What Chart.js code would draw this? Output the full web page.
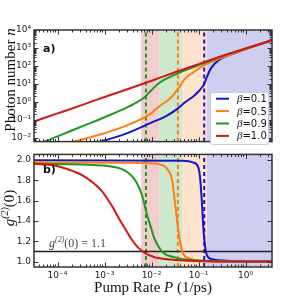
<!DOCTYPE html>
<html>
<head>
<meta charset="utf-8">
<script src="https://cdn.jsdelivr.net/npm/chart.js@4.4.1/dist/chart.umd.min.js"></script>
<style>
  html, body { margin: 0; padding: 0; background: #fff; }
  #wrap { position: relative; width: 299px; height: 297px; overflow: hidden; }
  canvas { position: absolute; left: 0; }
  #graficoTopo { top: 0; }
  #graficoBase { top: 146px; }
</style>
</head>
<body>
<div id="wrap">
  <canvas id="graficoTopo" width="299" height="150"></canvas>
  <canvas id="graficoBase" width="299" height="151"></canvas>
</div>
<script>
// beta values and colours of the four curves (legend order)
const betas = [0.1, 0.5, 0.9, 1.0];
const lineColors = ['#1414c8', '#ff7f0e', '#1e9a1e', '#d41616'];

// axis ranges
const xMin = 3.16e-5, xMax = 3.65;
const yTopMin = 0.0062, yTopMax = 1e4;
const yBotMin = 0.947, yBotMax = 2.053;

// tick labels
const xTickValues = [1e-4, 1e-3, 1e-2, 1e-1, 1];
const xTickLabels = ['10⁻⁴', '10⁻³', '10⁻²', '10⁻¹', '10⁰'];
const yTopTickValues = [1e-2, 1e-1, 1, 10, 100, 1000, 10000];
const yTopTickLabels = ['10⁻²', '10⁻¹', '10⁰', '10¹', '10²', '10³', '10⁴'];
const yBotTickValues = [1.0, 1.2, 1.4, 1.6, 1.8, 2.0];
const yBotTickLabels = ['1.0', '1.2', '1.4', '1.6', '1.8', '2.0'];

// panel a) photon number n vs pump rate P
const pumpBlueA = [7.9e-4, 1e-3, 3.16e-3, 0.01, 0.02, 0.0347, 0.05, 0.079, 0.1, 0.1175, 0.132, 0.151, 0.178, 0.224, 0.316, 0.631, 1.445, 3.65];
const photonsBlue = [0.0059, 0.0071, 0.019, 0.0708, 0.158, 0.398, 0.891, 2.14, 3.8, 6.31, 10, 25.1, 63.1, 141, 269, 550, 1202, 2512];
const pumpOrangeA = [2.04e-4, 3.16e-4, 1e-3, 3.16e-3, 0.01, 0.0145, 0.0251, 0.0347, 0.0407, 0.05, 0.0759, 0.126, 0.288, 0.631, 1, 3.65];
const photonsOrange = [0.0059, 0.0079, 0.0182, 0.0525, 0.24, 0.562, 1.585, 4.47, 7.94, 17.8, 42.7, 104.7, 263, 562, 851, 2630];
const pumpGreenA = [5.1e-5, 1e-4, 3.16e-4, 1e-3, 3.16e-3, 6.9e-3, 0.01, 0.0145, 0.0316, 0.063, 0.1, 0.316, 1, 3.65];
const photonsGreen = [0.0059, 0.012, 0.0417, 0.141, 0.525, 1.7, 4.57, 11.2, 33.1, 69.2, 109.6, 347, 933, 2692];
const pumpRedA = [3.16e-5, 1e-4, 3.16e-4, 1e-3, 3.16e-3, 0.01, 0.0316, 0.1, 0.316, 1, 3.65];
const photonsRed = [0.0813, 0.229, 0.646, 1.86, 5.25, 15.1, 44.7, 125.9, 355, 955, 2692];

// panel b) g2(0) vs pump rate P
const pumpBlueB = [3.16e-5, 0.0468, 0.0759, 0.098, 0.107, 0.1175, 0.126, 0.138, 0.151, 0.195, 0.331, 1, 3.65];
const g2Blue = [1.995, 1.99, 1.975, 1.93, 1.84, 1.59, 1.34, 1.15, 1.06, 1.024, 1.01, 1.002, 1.0];
const pumpOrangeB = [3.16e-5, 3.16e-3, 9.3e-3, 0.0174, 0.0224, 0.0275, 0.0302, 0.0331, 0.0363, 0.0407, 0.0468, 0.066, 0.107, 0.316, 3.65];
const g2Orange = [1.975, 1.972, 1.967, 1.945, 1.90, 1.80, 1.65, 1.50, 1.34, 1.19, 1.08, 1.03, 1.01, 1.0, 1.0];
const pumpGreenB = [3.16e-5, 3.16e-4, 8.5e-4, 1.58e-3, 2.57e-3, 3.63e-3, 4.9e-3, 6.3e-3, 7.9e-3, 9.8e-3, 0.0112, 0.0132, 0.0174, 0.0288, 0.0468, 0.107, 0.316, 3.65];
const g2Green = [1.96, 1.955, 1.945, 1.93, 1.90, 1.85, 1.77, 1.65, 1.47, 1.33, 1.24, 1.17, 1.09, 1.046, 1.024, 1.01, 1.003, 1.0];
const pumpRedB = [3.16e-5, 8.5e-5, 1.58e-4, 3.6e-4, 8.5e-4, 1.38e-3, 2.24e-3, 3.63e-3, 4.9e-3, 6.9e-3, 0.0112, 0.0251, 0.0468, 0.251, 3.65];
const g2Red = [1.96, 1.945, 1.91, 1.84, 1.70, 1.56, 1.39, 1.23, 1.15, 1.09, 1.046, 1.02, 1.01, 1.0, 1.0];

// laser thresholds (dashed lines) for beta = 0.1, 0.5, 0.9
const thresholdPump = [0.132, 0.0363, 0.0076];
// shaded regions
const bandEdges = [0.006, 0.0145, 0.045, 0.151, xMax];
const bandColors = ['#f2cdcd', '#cee8ce', '#fde3ce', '#cecef0'];
const g2Limit = 1.1;

const pts = (xs, ys) => xs.map((x, i) => ({ x: x, y: ys[i] }));

function curve(label, data, color, order) {
  return { label: label, data: data, borderColor: color, borderWidth: 2, pointRadius: 0,
           fill: false, cubicInterpolationMode: 'monotone', order: order };
}
function dashed(p, lo, hi, color) {
  return { data: [{ x: p, y: lo }, { x: p, y: hi }], borderColor: color, borderWidth: 2,
           borderDash: [4, 3], pointRadius: 0, tension: 0, order: 10 };
}

const tickFont = { family: 'DejaVu Sans', size: 9 };
const serif = 'Liberation Serif';

function xAxis(show) {
  return {
    type: 'logarithmic', min: xMin, max: xMax, display: show,
    afterBuildTicks: s => { s.ticks = xTickValues.map(v => ({ value: v })); },
    afterFit: s => { s.height = show ? 30 : 0; },
    ticks: { autoSkip: false, maxRotation: 0, padding: 3, color: '#222', font: tickFont,
             callback: (v, i) => xTickLabels[i] },
    grid: { display: false, drawTicks: false },
    border: { display: false }
  };
}

// bandas coloridas
function drawBands(chart) {
  const { ctx, chartArea: a, scales: { x } } = chart;
  ctx.save();
  for (let i = 0; i < bandColors.length; i++) {
    const x0 = Math.max(a.left, x.getPixelForValue(bandEdges[i]));
    const x1 = Math.min(a.right, x.getPixelForValue(bandEdges[i + 1]));
    ctx.fillStyle = bandColors[i];
    ctx.fillRect(x0, a.top, x1 - x0, a.bottom - a.top);
  }
  ctx.restore();
}

// moldura e marcas para dentro
function drawFrame(chart, logY, yMajors) {
  const { ctx, chartArea: a, scales: { x, y } } = chart;
  ctx.save();
  ctx.strokeStyle = '#333';
  ctx.lineWidth = 1;
  ctx.beginPath();
  for (let d = -5; d <= 1; d++) {
    for (let k = 1; k < 10; k++) {
      const v = k * Math.pow(10, d);
      if (v < xMin || v > xMax) continue;
      const px = Math.round(x.getPixelForValue(v)) + 0.5;
      const len = k === 1 ? 4.5 : 2.5;
      ctx.moveTo(px, a.bottom); ctx.lineTo(px, a.bottom - len);
      ctx.moveTo(px, a.top); ctx.lineTo(px, a.top + len);
    }
  }
  const yTicks = [];
  if (logY) {
    for (let d = -3; d <= 4; d++) {
      for (let k = 1; k < 10; k++) {
        const v = k * Math.pow(10, d);
        if (v < yTopMin || v > yTopMax) continue;
        yTicks.push([v, k === 1 ? 4.5 : 2.5]);
      }
    }
  } else {
    yMajors.forEach(v => yTicks.push([v, 4.5]));
  }
  yTicks.forEach(([v, len]) => {
    const py = Math.round(y.getPixelForValue(v)) + 0.5;
    ctx.moveTo(a.left, py); ctx.lineTo(a.left + len, py);
    ctx.moveTo(a.right, py); ctx.lineTo(a.right - len, py);
  });
  ctx.stroke();
  ctx.lineWidth = 1.5;
  ctx.strokeRect(a.left, a.top, a.right - a.left, a.bottom - a.top);
  ctx.restore();
}

// texto com partes em fontes diferentes
function richText(ctx, parts, x, y, align) {
  let w = 0;
  parts.forEach(p => { ctx.font = p.font; w += ctx.measureText(p.t).width; });
  let cx = align === 'center' ? x - w / 2 : x;
  parts.forEach(p => {
    ctx.font = p.font;
    ctx.fillText(p.t, cx, y + (p.dy || 0));
    cx += ctx.measureText(p.t).width;
  });
}

const pluginTopo = {
  id: 'decorTopo',
  beforeDatasetsDraw: chart => drawBands(chart),
  afterDraw: chart => {
    const ctx = chart.ctx;
    drawFrame(chart, true);
    ctx.save();
    ctx.fillStyle = '#111';
    ctx.textBaseline = 'alphabetic';
    ctx.font = 'bold 11px "DejaVu Sans"';
    ctx.fillText('a)', 43, 52);
    // legenda
    const lx = 210, ly = 92, lw = 58, lh = 52;
    ctx.fillStyle = '#fff';
    ctx.strokeStyle = '#ccc';
    ctx.lineWidth = 1;
    ctx.beginPath();
    ctx.roundRect(lx + 0.5, ly + 0.5, lw, lh, 2);
    ctx.fill();
    ctx.stroke();
    betas.forEach((b, i) => {
      const ry = 98.7 + i * 12.4;
      ctx.strokeStyle = lineColors[i];
      ctx.lineWidth = 2;
      ctx.beginPath();
      ctx.moveTo(216, ry); ctx.lineTo(229, ry);
      ctx.stroke();
      ctx.fillStyle = '#111';
      richText(ctx, [
        { t: 'β', font: 'italic 11px "' + serif + '"' },
        { t: '=' + b.toFixed(1), font: '10px "DejaVu Sans"' }
      ], 237, ry + 3.5, 'left');
    });
    // titulo do eixo y
    ctx.translate(15, 80);
    ctx.rotate(-Math.PI / 2);
    ctx.fillStyle = '#111';
    richText(ctx, [
      { t: 'Photon number ', font: '15px "' + serif + '"' },
      { t: 'n', font: 'italic 15px "' + serif + '"' }
    ], 0, 0, 'center');
    ctx.restore();
  }
};

const pluginBase = {
  id: 'decorBase',
  beforeDatasetsDraw: chart => drawBands(chart),
  afterDraw: chart => {
    const ctx = chart.ctx;
    drawFrame(chart, false, yBotTickValues);
    ctx.save();
    ctx.fillStyle = '#111';
    ctx.textBaseline = 'alphabetic';
    ctx.font = 'bold 11px "DejaVu Sans"';
    ctx.fillText('b)', 43, 27);
    // anotacao g2 = 1.1
    ctx.fillStyle = '#444';
    richText(ctx, [
      { t: 'g', font: 'italic 12px "' + serif + '"' },
      { t: '(2)', font: 'italic 8px "' + serif + '"', dy: -5 },
      { t: '(0)', font: '12px "' + serif + '"' },
      { t: ' = 1.1', font: '12px "' + serif + '"' }
    ], 49, 100.5, 'left');
    // titulo do eixo x
    ctx.fillStyle = '#111';
    richText(ctx, [
      { t: 'Pump Rate ', font: '15px "' + serif + '"' },
      { t: 'P', font: 'italic 15px "' + serif + '"' },
      { t: ' (1/ps)', font: '15px "' + serif + '"' }
    ], 153, 145.5, 'center');
    // titulo do eixo y
    ctx.translate(14, 62);
    ctx.rotate(-Math.PI / 2);
    richText(ctx, [
      { t: 'g', font: 'italic 15px "' + serif + '"' },
      { t: '(2)', font: 'italic 10px "' + serif + '"', dy: -6 },
      { t: '(0)', font: '15px "' + serif + '"' }
    ], 0, 0, 'center');
    ctx.restore();
  }
};

// grafico de cima: numero de fotons
new Chart(document.getElementById('graficoTopo').getContext('2d'), {
  type: 'line',
  data: {
    datasets: [
      curve('β=0.1', pts(pumpBlueA, photonsBlue), lineColors[0], 4),
      curve('β=0.5', pts(pumpOrangeA, photonsOrange), lineColors[1], 3),
      curve('β=0.9', pts(pumpGreenA, photonsGreen), lineColors[2], 2),
      curve('β=1.0', pts(pumpRedA, photonsRed), lineColors[3], 1),
      dashed(thresholdPump[0], yTopMin, yTopMax, lineColors[0]),
      dashed(thresholdPump[1], yTopMin, yTopMax, lineColors[1]),
      dashed(thresholdPump[2], yTopMin, yTopMax, lineColors[2])
    ]
  },
  options: {
    responsive: false,
    animation: false,
    layout: { padding: { top: 30, right: 27, left: 0, bottom: 2 } },
    plugins: { legend: { display: false }, tooltip: { enabled: false } },
    scales: {
      x: xAxis(false),
      y: {
        type: 'logarithmic', min: yTopMin, max: yTopMax,
        afterBuildTicks: s => { s.ticks = yTopTickValues.map(v => ({ value: v })); },
        afterFit: s => { s.width = 34; },
        ticks: { autoSkip: false, padding: 3, color: '#222', font: tickFont,
                 callback: (v, i) => yTopTickLabels[i] },
        grid: { display: false, drawTicks: false },
        border: { display: false }
      }
    }
  },
  plugins: [pluginTopo]
});

// grafico de baixo: g2(0)
new Chart(document.getElementById('graficoBase').getContext('2d'), {
  type: 'line',
  data: {
    datasets: [
      curve('β=0.1', pts(pumpBlueB, g2Blue), lineColors[0], 4),
      curve('β=0.5', pts(pumpOrangeB, g2Orange), lineColors[1], 3),
      curve('β=0.9', pts(pumpGreenB, g2Green), lineColors[2], 2),
      curve('β=1.0', pts(pumpRedB, g2Red), lineColors[3], 1),
      { data: [{ x: xMin, y: g2Limit }, { x: xMax, y: g2Limit }], borderColor: '#222',
        borderWidth: 1.5, pointRadius: 0, order: 5 },
      dashed(thresholdPump[0], yBotMin, yBotMax, lineColors[0]),
      dashed(thresholdPump[1], yBotMin, yBotMax, lineColors[1]),
      dashed(thresholdPump[2], yBotMin, yBotMax, lineColors[2])
    ]
  },
  options: {
    responsive: false,
    animation: false,
    layout: { padding: { top: 2, right: 27, left: 0, bottom: 0 } },
    plugins: { legend: { display: false }, tooltip: { enabled: false } },
    scales: {
      x: xAxis(true),
      y: {
        type: 'linear', min: yBotMin, max: yBotMax,
        afterBuildTicks: s => { s.ticks = yBotTickValues.map(v => ({ value: v })); },
        afterFit: s => { s.width = 34; },
        ticks: { autoSkip: false, padding: 3, color: '#222', font: tickFont,
                 callback: (v, i) => yBotTickLabels[i] },
        grid: { display: false, drawTicks: false },
        border: { display: false }
      }
    }
  },
  plugins: [pluginBase]
});
</script>
</body>
</html>
